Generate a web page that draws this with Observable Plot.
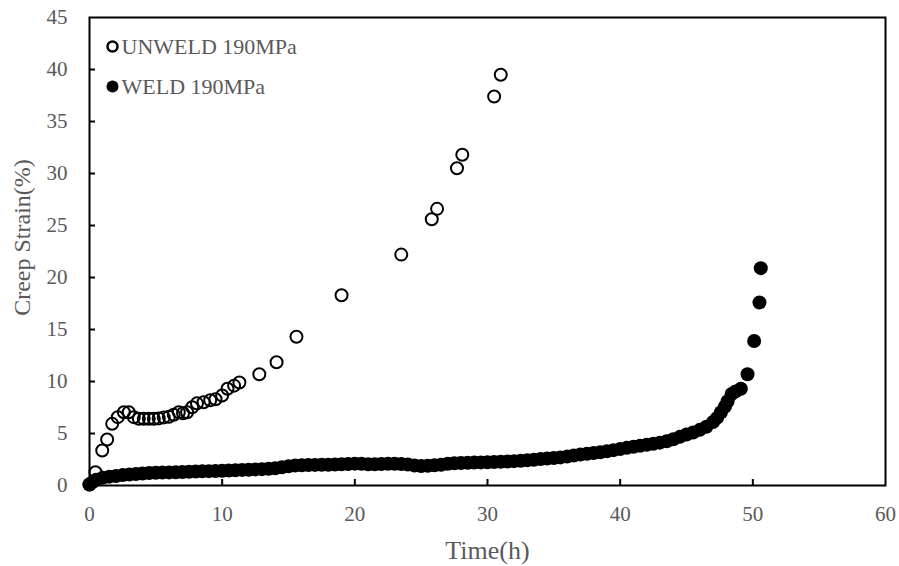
<!DOCTYPE html>
<html>
<head>
<meta charset="utf-8">
<script src="https://cdn.jsdelivr.net/npm/d3@7"></script>
<script src="https://cdn.jsdelivr.net/npm/@observablehq/plot@0.6"></script>
<style>
  html, body { margin: 0; padding: 0; background: white; }
</style>
</head>
<body>
<div id="chart"></div>
<script>
// ---- Data ----
const unweldTime = [0.0, 0.45, 0.96, 1.33, 1.71, 2.13, 2.59, 2.96, 3.34, 3.72, 4.09, 4.47, 4.85, 5.22, 5.6, 5.98, 6.35, 6.73, 7.05, 7.36, 7.74, 8.1, 8.6, 9.1, 9.5, 10.0, 10.4, 10.9, 11.3, 12.8, 14.1, 15.6, 19.0, 23.5, 25.8, 26.2, 27.7, 28.1, 30.5, 31.0];
const unweldStrain = [0.1, 1.28, 3.37, 4.42, 5.93, 6.57, 7.05, 7.05, 6.57, 6.41, 6.41, 6.41, 6.41, 6.45, 6.55, 6.6, 6.8, 7.05, 6.95, 7.05, 7.53, 7.9, 8.0, 8.2, 8.3, 8.65, 9.3, 9.6, 9.9, 10.7, 11.85, 14.3, 18.3, 22.2, 25.6, 26.6, 30.5, 31.8, 37.4, 39.5];

const weldTime = [0.0, 0.2, 0.5, 1.0, 1.5, 2.0, 2.5, 3.0, 3.5, 4.0, 4.5, 5.0, 5.5, 6.0, 6.5, 7.0, 7.5, 8.0, 8.5, 9.0, 9.5, 10.0, 10.5, 11.0, 11.5, 12.0, 12.5, 13.0, 13.5, 14.0, 14.5, 15.0, 15.5, 16.0, 16.5, 17.0, 17.5, 18.0, 18.5, 19.0, 19.5, 20.0, 20.5, 21.0, 21.5, 22.0, 22.5, 23.0, 23.5, 24.0, 24.5, 25.0, 25.5, 26.0, 26.5, 27.0, 27.5, 28.0, 28.5, 29.0, 29.5, 30.0, 30.5, 31.0, 31.5, 32.0, 32.5, 33.0, 33.5, 34.0, 34.5, 35.0, 35.5, 36.0, 36.5, 37.0, 37.5, 38.0, 38.5, 39.0, 39.5, 40.0, 40.5, 41.0, 41.5, 42.0, 42.5, 43.0, 43.5, 44.0, 44.5, 45.0, 45.5, 46.0, 46.5, 47.0, 47.3, 47.6, 47.9, 48.1, 48.4, 48.7, 49.1, 49.6, 50.1, 50.5, 50.6];
const weldStrain = [0.1, 0.3, 0.55, 0.75, 0.85, 0.92, 1.0, 1.05, 1.1, 1.15, 1.2, 1.22, 1.24, 1.26, 1.28, 1.3, 1.32, 1.34, 1.36, 1.38, 1.4, 1.42, 1.44, 1.47, 1.5, 1.52, 1.55, 1.57, 1.6, 1.66, 1.75, 1.84, 1.92, 1.95, 1.97, 1.98, 1.99, 2.0, 2.02, 2.04, 2.07, 2.1, 2.08, 2.05, 2.05, 2.07, 2.08, 2.08, 2.07, 2.02, 1.92, 1.88, 1.9, 1.95, 2.0, 2.08, 2.14, 2.16, 2.18, 2.2, 2.22, 2.23, 2.25, 2.28, 2.3, 2.34, 2.38, 2.42, 2.48, 2.54, 2.6, 2.65, 2.7, 2.78, 2.88, 2.98, 3.05, 3.12, 3.2, 3.3, 3.4, 3.5, 3.62, 3.72, 3.82, 3.92, 4.02, 4.12, 4.25, 4.45, 4.68, 4.9, 5.1, 5.35, 5.65, 6.1, 6.5, 7.05, 7.6, 8.1, 8.8, 9.05, 9.3, 10.7, 13.9, 17.6, 20.9];

const xTicks = [0, 10, 20, 30, 40, 50, 60];
const yTicks = [0, 5, 10, 15, 20, 25, 30, 35, 40, 45];
const legendLabels = ["UNWELD 190MPa", "WELD 190MPa"];
const xTitle = "Time(h)";
const yTitle = "Creep Strain(%)";

// ---- Build tables ----
const unweld = unweldTime.map((t, i) => ({t, s: unweldStrain[i]}));
const weld = weldTime.map((t, i) => ({t, s: weldStrain[i]}));

const W = 899, H = 566;
const mL = 89, mR = 14, mT = 17, mB = 81;
const innerW = W - mL - mR, innerH = H - mT - mB;
const tickLen = 6;
const textColor = "#595959";

const chart = Plot.plot({
  width: W,
  height: H,
  marginLeft: mL,
  marginRight: mR,
  marginTop: mT,
  marginBottom: mB,
  x: {domain: [0, 60]},
  y: {domain: [0, 45]},
  style: {
    fontFamily: "'Liberation Serif', 'Times New Roman', serif",
    fontSize: "21px",
    color: textColor,
    background: "white",
    overflow: "visible"
  },
  marks: [
    // inward ticks
    Plot.ruleX(xTicks.slice(1, -1), {stroke: "black", strokeWidth: 2, insetTop: innerH - tickLen}),
    Plot.ruleY(yTicks.slice(1, -1), {stroke: "black", strokeWidth: 2, insetRight: innerW - tickLen}),
    Plot.axisX({ticks: xTicks, tickSize: 0, tickPadding: 21, label: null, fill: textColor}),
    Plot.axisY({ticks: yTicks, tickSize: 0, tickPadding: 22, label: null, fill: textColor}),
    // axis titles
    Plot.text([xTitle], {frameAnchor: "bottom", dy: 65, fontSize: 26, textAnchor: "middle", lineAnchor: "middle", fill: textColor}),
    Plot.text([yTitle], {frameAnchor: "left", dx: -67, dy: -14, rotate: -90, fontSize: 24, textAnchor: "middle", lineAnchor: "middle", fill: textColor}),
    // data
    Plot.dot(unweld, {x: "t", y: "s", r: 6, stroke: "black", strokeWidth: 2, fill: "white", fillOpacity: 0}),
    Plot.dot(weld, {x: "t", y: "s", r: 7, fill: "black", stroke: "none"}),
    Plot.frame({stroke: "black", strokeWidth: 2}),
    // legend
    Plot.dot([legendLabels[0]], {frameAnchor: "top-left", dx: 23, dy: 29, r: 5, stroke: "black", strokeWidth: 2.5, fill: "none"}),
    Plot.dot([legendLabels[1]], {frameAnchor: "top-left", dx: 23, dy: 69, r: 6, fill: "black", stroke: "none"}),
    Plot.text([legendLabels[0]], {frameAnchor: "top-left", dx: 32, dy: 29, textAnchor: "start", lineAnchor: "middle", fontSize: 22, fill: textColor}),
    Plot.text([legendLabels[1]], {frameAnchor: "top-left", dx: 32, dy: 69, textAnchor: "start", lineAnchor: "middle", fontSize: 22, fill: textColor})
  ]
});

document.getElementById("chart").appendChild(chart);
</script>
</body>
</html>
